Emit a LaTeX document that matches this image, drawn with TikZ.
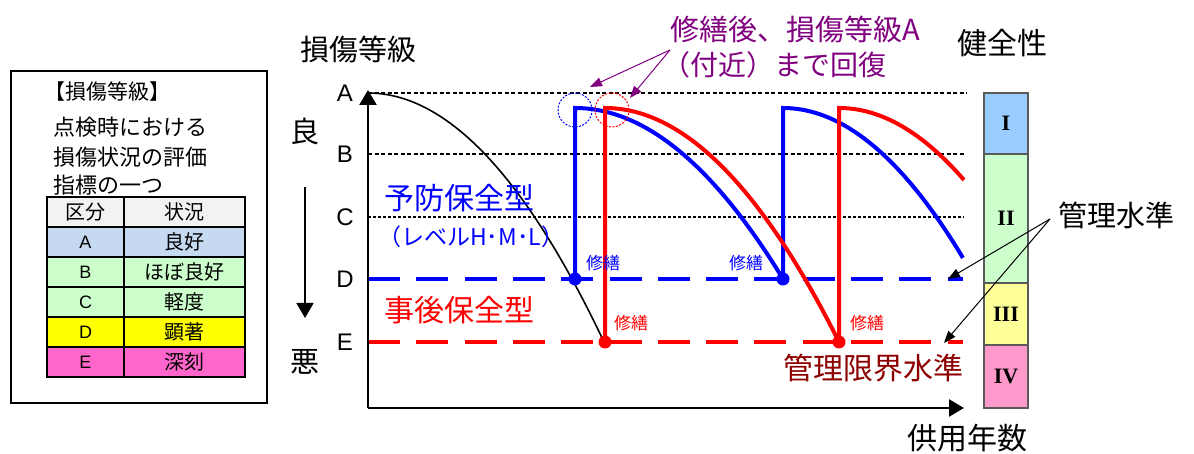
\documentclass[tikz,border=0pt]{standalone}
\usepackage{fontspec}
\setmainfont{Liberation Sans}
\newfontfamily\jp{Noto Sans CJK JP}
\newfontfamily\romanf{Liberation Serif}
\usetikzlibrary{arrows.meta}
\definecolor{pblue}{RGB}{0,0,255}
\definecolor{pred}{RGB}{255,0,0}
\definecolor{ppurple}{RGB}{128,0,128}
\definecolor{dred}{RGB}{140,0,0}
\definecolor{hdrgray}{RGB}{242,242,242}
\definecolor{tA}{RGB}{197,217,241}
\definecolor{tB}{RGB}{204,255,204}
\definecolor{tD}{RGB}{255,255,0}
\definecolor{tE}{RGB}{255,102,204}
\definecolor{hI}{RGB}{153,204,255}
\definecolor{hII}{RGB}{204,255,204}
\definecolor{hIII}{RGB}{255,255,153}
\definecolor{hIV}{RGB}{255,153,204}
\definecolor{bargray}{RGB}{90,90,90}
\tikzset{
  jf/.style={font=\jp\fontsize{#1}{#1}\selectfont, inner sep=0pt},
  lf/.style={font=\fontsize{#1}{#1}\selectfont, inner sep=0pt},
  cell/.style={draw=black, line width=2.5pt, inner sep=0pt, minimum height=30pt},
  bar/.style={draw=bargray, line width=1.3pt, inner sep=0pt, minimum width=44pt, font=\romanf\bfseries\fontsize{22}{22}\selectfont},
  refline/.style={line width=1.8pt, dash pattern=on 4pt off 2.5pt},
  mgmt/.style={line width=4.5pt, dash pattern=on 32pt off 16.3pt},
  curve/.style={line width=4pt},
  tip/.style={-{Triangle[length=15pt,width=17pt]}},
  thinarrow/.style={line width=1pt, -{Triangle[length=12pt,width=9pt]}},
  dot/.style={circle, inner sep=0pt, minimum size=13pt}
}
\begin{document}
\begin{tikzpicture}[x=1pt,y=-1pt]
\useasboundingbox (0,0) rectangle (1194,454);

% ---------- legend ----------
\node[draw=black, line width=1.2pt, minimum width=256pt, minimum height=332pt, inner sep=0pt] (legend) at (139,237) {};
\node[jf=21, anchor=west] (lt1) at (44,92) {【損傷等級】};
\node[jf=22, anchor=west] (lt2) at (53,127) {点検時における};
\node[jf=22, anchor=west] (lt3) at (53,157) {損傷状況の評価};
\node[jf=22, anchor=west] (lt4) at (53,185) {指標の一つ};
\node[cell, fill=hdrgray, minimum width=77pt, jf=20] (k0) at (85.5,212) {区分};
\node[cell, fill=hdrgray, minimum width=121pt, jf=20] (s0) at (184.5,212) {状況};
\foreach \i/\k/\s/\c in {1/A/良好/tA,2/B/ほぼ良好/tB,3/C/軽度/tB,4/D/顕著/tD,5/E/深刻/tE}{
  \node[cell, fill=\c, minimum width=77pt, lf=18] (k\i) at (85.5,212+30*\i) {\k};
  \node[cell, fill=\c, minimum width=121pt, jf=20] (s\i) at (184.5,212+30*\i) {\s};
}

% ---------- axes labels ----------
\node[jf=29] (title) at (358,50) {損傷等級};
\node[jf=29] (good) at (305,131) {良};
\node[jf=29] (bad) at (305,362) {悪};
\coordinate (gbtop) at (305,187);
\coordinate (gbend) at (305,318);
\draw[line width=1.8pt, tip] (gbtop) -- (gbend);
\node[lf=24] (lA) at (345,93) {A};
\node[lf=24] (lB) at (345,154) {B};
\node[lf=24] (lC) at (345,217) {C};
\node[lf=24] (lD) at (345,279) {D};
\node[lf=24] (lE) at (345,342) {E};

\coordinate (O) at (368,408);
\coordinate (Ytop) at (368,90);
\coordinate (Xend) at (964,408);

% reference lines
\draw[refline] (368,93) -- (967,93);
\draw[refline] (368,154) -- (964,154);
\draw[line width=1.3pt, dash pattern=on 3pt off 2pt] (368,217) -- (964,217);

% management lines
\draw[mgmt, pblue] (368,279) -- (963,279);
\draw[mgmt, pred] (368,342) -- (963,342);

% axes
\draw[line width=2.5pt, tip] (O) -- (Ytop);
\draw[line width=2.5pt, tip] (O) -- (Xend);

% black deterioration curve
\draw[line width=1.6pt] plot[domain=0:1, samples=50] ({368+236*\x},{93+249*\x*\x});

% dots (coordinates)
\coordinate (bd1) at (575,279);
\coordinate (bd2) at (783,279);
\coordinate (rd1) at (605,342);
\coordinate (rd2) at (839,342);

% blue preventive curves
\draw[curve, pblue] (bd1) -- (575,108) -- plot[domain=0:1, samples=50] ({575+208*\x},{108+171*\x*\x});
\draw[curve, pblue] (bd2) -- (783,108) -- plot[domain=0:1, samples=50] ({783+180*\x},{108+150*\x*\x});
% red corrective curves
\draw[curve, pred] (rd1) -- (605,108) -- plot[domain=0:1, samples=50] ({605+234*\x},{108+234*\x*\x});
\draw[curve, pred] (rd2) -- (839,108) -- plot[domain=0:1, samples=40] ({839+125*\x},{108+72*\x*\x});

\node[dot, fill=pblue] (nbd1) at (bd1) {};
\node[dot, fill=pblue] (nbd2) at (bd2) {};
\node[dot, fill=pred] (nrd1) at (rd1) {};
\node[dot, fill=pred] (nrd2) at (rd2) {};

% dotted circles
\node[circle, draw=pblue, line width=1pt, dash pattern=on 2pt off 1.5pt, minimum size=34pt, inner sep=0pt] (cb) at (575,110) {};
\node[circle, draw=pred, line width=1pt, dash pattern=on 2pt off 1.5pt, minimum size=34pt, inner sep=0pt] (cr) at (612,110) {};

% repair labels
\node[jf=17, text=pblue] (rp1) at (603,263) {修繕};
\node[jf=17, text=pblue] (rp2) at (746,263) {修繕};
\node[jf=17, text=pred] (rp3) at (631,323) {修繕};
\node[jf=17, text=pred] (rp4) at (867,323) {修繕};

% type labels
\node[jf=30, text=pblue, anchor=west] (prev) at (384,198) {予防保全型};
\node[jf=23, text=pblue, anchor=west] (lvl) at (378,237) {（レベルH･M･L）};
\node[jf=30, text=pred, anchor=west] (corr) at (384,310) {事後保全型};
\node[jf=30, text=dred, anchor=east] (limit) at (964,368) {管理限界水準};

% purple annotation
\node[jf=29, text=ppurple, anchor=west] (ann1) at (670,30) {修繕後、損傷等級A};
\node[jf=28, text=ppurple, anchor=west] (ann2) at (662,65) {（付近）まで回復};
\coordinate (annsrc) at (670,50);
\coordinate (annt1) at (590,87);
\coordinate (annt2) at (630,98);
\draw[thinarrow, ppurple] (annsrc) -- (annt1);
\draw[thinarrow, ppurple] (annsrc) -- (annt2);

% health bar
\node[jf=30] (health) at (1002,43) {健全性};
\node[bar, fill=hI, minimum height=61pt] (h1) at (1006,123.5) {I};
\node[bar, fill=hII, minimum height=129pt] (h2) at (1006,218.5) {II};
\node[bar, fill=hIII, minimum height=62pt] (h3) at (1006,314) {III};
\node[bar, fill=hIV, minimum height=63pt] (h4) at (1006,376.5) {IV};

% management level
\node[jf=29, anchor=west] (mlev) at (1058,215) {管理水準};
\coordinate (msrc) at (1050,219);
\coordinate (mt1) at (948,279);
\coordinate (mt2) at (944,343);
\draw[thinarrow, black] (msrc) -- (mt1);
\draw[thinarrow, black] (msrc) -- (mt2);

% x label
\node[jf=30] (years) at (967,438) {供用年数};
\end{tikzpicture}
\end{document}
